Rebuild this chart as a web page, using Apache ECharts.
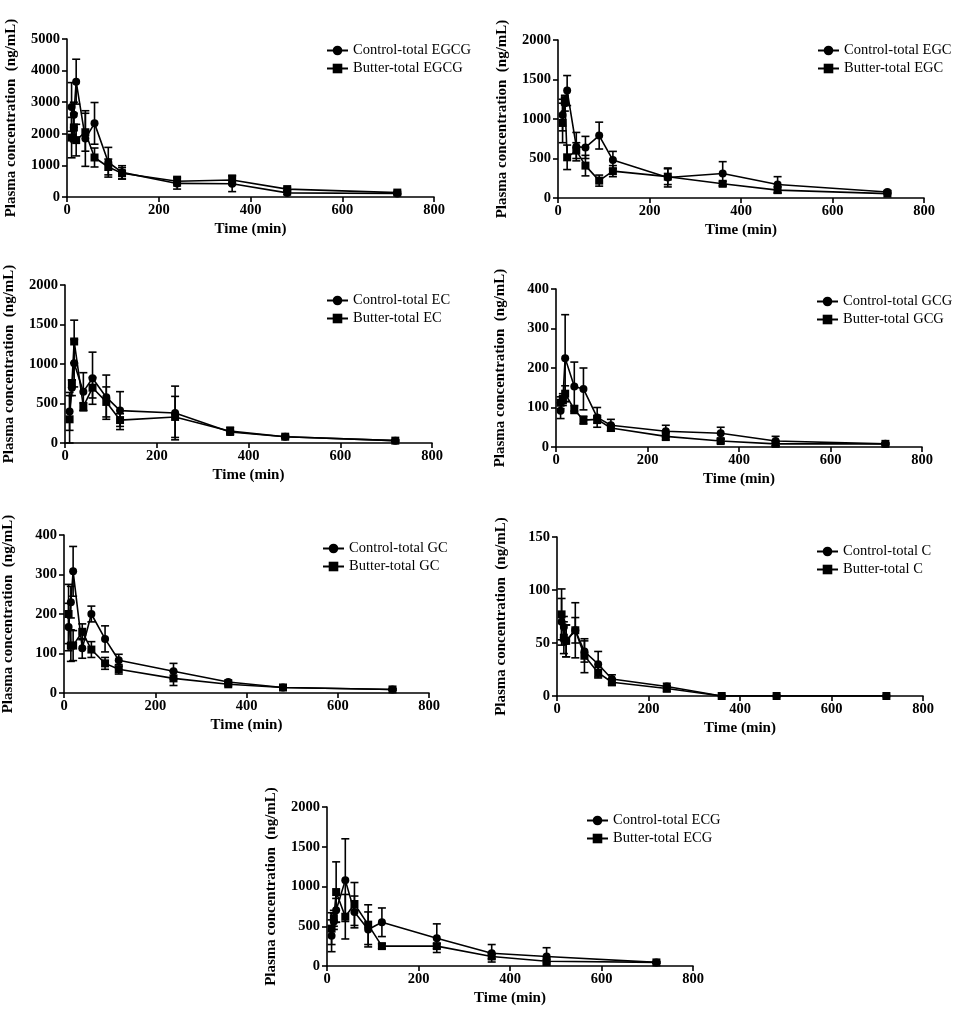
<!DOCTYPE html>
<html>
<head>
<meta charset="utf-8">
<script src="https://cdn.jsdelivr.net/npm/echarts@6/dist/echarts.min.js"></script>
<style>
html,body{margin:0;padding:0;background:#fff;}
#chart{width:953px;height:1009px;}
</style>
</head>
<body>
<div id="chart"></div>
<script>
// ---- Data ----
const times = [10, 15, 20, 40, 60, 90, 120, 240, 360, 480, 720];
const compounds = ['EGCG', 'EGC', 'EC', 'GCG', 'GC', 'C', 'ECG'];
const yMax = [5000, 2000, 2000, 400, 400, 150, 2000];
const yStep = [1000, 500, 500, 100, 100, 50, 500];

const egcgControl   = [2850, 2600, 3650, 1850, 2330, 1100, 780, 430, 420, 130, 110];
const egcgControlSD = [770, 400, 710, 880, 660, 470, 210, 180, 250, 60, 30];
const egcgButter    = [1880, 2200, 1800, 2050, 1250, 950, 750, 500, 540, 250, 140];
const egcgButterSD  = [640, 450, 500, 600, 300, 250, 180, 150, 150, 50, 40];

const egcControl    = [1050, 1200, 1360, 650, 640, 790, 480, 260, 310, 170, 75];
const egcControlSD  = [200, 100, 190, 180, 140, 170, 110, 120, 150, 100, 15];
const egcButter     = [950, 1230, 515, 600, 410, 220, 340, 270, 180, 100, 55];
const egcButterSD   = [250, 50, 155, 100, 130, 70, 70, 100, 30, 40, 10];

const ecControl     = [400, 700, 1010, 650, 820, 580, 410, 380, 140, 80, 30];
const ecControlSD   = [240, 100, 300, 240, 330, 280, 240, 340, 20, 15, 10];
const ecButter      = [300, 750, 1285, 460, 700, 520, 290, 330, 150, 80, 30];
const ecButterSD    = [300, 50, 270, 50, 130, 190, 80, 260, 50, 15, 10];

const gcgControl    = [92, 120, 225, 153, 147, 75, 55, 40, 35, 15, 8];
const gcgControlSD  = [20, 15, 110, 62, 53, 25, 15, 15, 15, 12, 2];
const gcgButter     = [112, 120, 135, 95, 68, 70, 48, 27, 15, 8, 8];
const gcgButterSD   = [15, 10, 20, 10, 10, 10, 8, 10, 5, 5, 2];

const gcControl     = [167, 230, 308, 113, 200, 137, 83, 55, 28, 14, 9];
const gcControlSD   = [60, 40, 63, 25, 20, 33, 15, 20, 5, 3, 2];
const gcButter      = [200, 120, 120, 155, 110, 75, 60, 37, 22, 14, 9];
const gcButterSD    = [75, 40, 38, 20, 20, 15, 12, 18, 4, 3, 2];

const cControl      = [70, 65, 52, 62, 42, 30, 16, 9, 0, 0, 0];
const cControlSD    = [22, 10, 15, 26, 10, 12, 4, 3, 0, 0, 0];
const cButter       = [77, 55, 52, 62, 38, 22, 13, 7, 0, 0, 0];
const cButterSD     = [24, 15, 15, 12, 16, 5, 3, 3, 0, 0, 0];

const ecgControl    = [380, 560, 700, 1080, 680, 460, 550, 350, 160, 120, 45];
const ecgControlSD  = [200, 100, 150, 520, 200, 220, 180, 180, 110, 110, 10];
const ecgButter     = [470, 600, 930, 620, 780, 520, 250, 250, 120, 60, 45];
const ecgButterSD   = [200, 100, 380, 280, 270, 250, 30, 30, 30, 20, 10];

const controlMeans = [egcgControl, egcControl, ecControl, gcgControl, gcControl, cControl, ecgControl];
const controlSDs   = [egcgControlSD, egcControlSD, ecControlSD, gcgControlSD, gcControlSD, cControlSD, ecgControlSD];
const butterMeans  = [egcgButter, egcButter, ecButter, gcgButter, gcButter, cButter, ecgButter];
const butterSDs    = [egcgButterSD, egcButterSD, ecButterSD, gcgButterSD, gcButterSD, cButterSD, ecgButterSD];

// ---- Layout ----
const grids = [
  {left: 67, top: 39, width: 367, height: 158},
  {left: 558, top: 40, width: 366, height: 158},
  {left: 65, top: 285, width: 367, height: 158},
  {left: 556, top: 289, width: 366, height: 158},
  {left: 62, top: 535, width: 367, height: 158},
  {left: 557, top: 537, width: 366, height: 159},
  {left: 327, top: 807, width: 366, height: 159}
];
const legendPos = [
  {left: 321, top: 38}, {left: 812, top: 38},
  {left: 321, top: 288}, {left: 811, top: 289},
  {left: 317, top: 536}, {left: 811, top: 539},
  {left: 581, top: 808}
];

const FONT = '"Liberation Serif", "Times New Roman", serif';
const chart = echarts.init(document.getElementById('chart'), null, {renderer: 'canvas'});

function errRender(params, api) {
  const x = api.value(0), m = api.value(1), s = api.value(2);
  if (m == null || !s) return null;
  const top = api.coord([x, m + s]);
  const bot = api.coord([x, Math.max(m - s, 0)]);
  const c = 4;
  const st = {stroke: '#000', lineWidth: 1.6};
  return {
    type: 'group',
    children: [
      {type: 'line', shape: {x1: top[0], y1: top[1], x2: bot[0], y2: bot[1]}, style: st},
      {type: 'line', shape: {x1: top[0] - c, y1: top[1], x2: top[0] + c, y2: top[1]}, style: st},
      {type: 'line', shape: {x1: bot[0] - c, y1: bot[1], x2: bot[0] + c, y2: bot[1]}, style: st}
    ]
  };
}

const option = {
  animation: false,
  backgroundColor: '#fff',
  color: ['#000'],
  grid: [], xAxis: [], yAxis: [], series: [], legend: []
};
const plain = v => String(v);

compounds.forEach((cmp, i) => {
  option.grid.push(Object.assign({containLabel: false}, grids[i]));
  option.xAxis.push({
    type: 'value', gridIndex: i, min: 0, max: 800, interval: 200,
    name: 'Time (min)', nameLocation: 'middle', nameGap: 25,
    nameTextStyle: {fontFamily: FONT, fontWeight: 'bold', fontSize: 15, color: '#000'},
    axisLine: {lineStyle: {color: '#000', width: 1.6}},
    axisTick: {lineStyle: {color: '#000', width: 1.6}, length: 5},
    axisLabel: {fontFamily: FONT, fontWeight: 'bold', fontSize: 14.5, color: '#000', margin: 6, formatter: plain},
    splitLine: {show: false}
  });
  option.yAxis.push({
    type: 'value', gridIndex: i, min: 0, max: yMax[i], interval: yStep[i],
    name: 'Plasma concentration  (ng/mL)', nameLocation: 'middle', nameGap: 48,
    nameTextStyle: {fontFamily: FONT, fontWeight: 'bold', fontSize: 15, color: '#000'},
    axisLine: {show: true, lineStyle: {color: '#000', width: 1.6}},
    axisTick: {show: true, lineStyle: {color: '#000', width: 1.6}, length: 5},
    axisLabel: {fontFamily: FONT, fontWeight: 'bold', fontSize: 14.5, color: '#000', margin: 7, formatter: plain},
    splitLine: {show: false}
  });
  const cName = 'Control-total ' + cmp;
  const bName = 'Butter-total ' + cmp;
  const mk = (name, means, sym) => ({
    name: name, type: 'line', xAxisIndex: i, yAxisIndex: i,
    data: times.map((t, k) => [t, means[k]]),
    symbol: sym, symbolSize: 8, showSymbol: true,
    lineStyle: {color: '#000', width: 1.6},
    itemStyle: {color: '#000'},
    z: 3
  });
  const eb = (means, sds) => ({
    type: 'custom', xAxisIndex: i, yAxisIndex: i,
    data: times.map((t, k) => [t, means[k], sds[k]]),
    itemStyle: {color: '#000'},
    renderItem: errRender, z: 2, clip: false
  });
  option.series.push(mk(cName, controlMeans[i], 'circle'));
  option.series.push(mk(bName, butterMeans[i], 'rect'));
  option.series.push(eb(controlMeans[i], controlSDs[i]));
  option.series.push(eb(butterMeans[i], butterSDs[i]));
  option.legend.push({
    left: legendPos[i].left, top: legendPos[i].top, orient: 'vertical',
    data: [cName, bName], itemWidth: 21, itemHeight: 12, itemGap: 3,
    textStyle: {fontFamily: FONT, fontSize: 14.5, color: '#000'},
    selectedMode: false
  });
});

chart.setOption(option);
</script>
</body>
</html>
